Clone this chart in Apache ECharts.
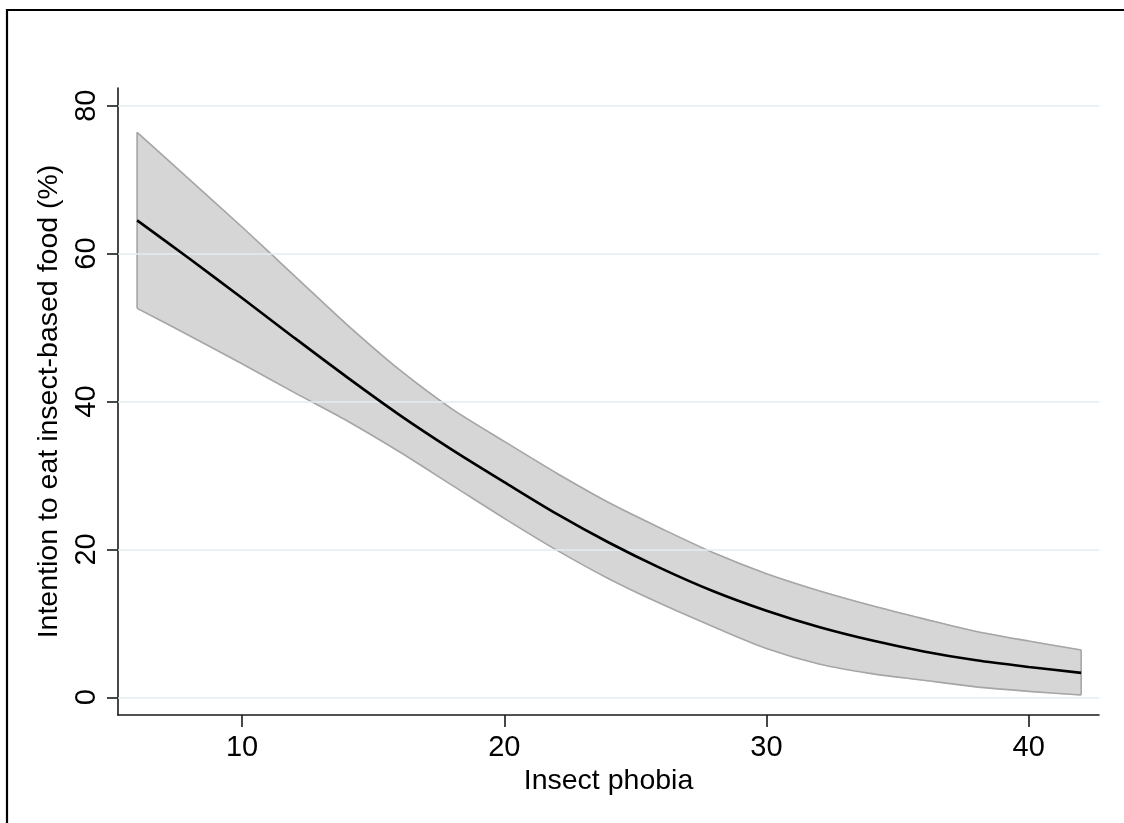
<!DOCTYPE html>
<html>
<head>
<meta charset="utf-8">
<script src="https://cdn.jsdelivr.net/npm/echarts@6/dist/echarts.min.js"></script>
<style>
  html, body { margin: 0; padding: 0; background: #ffffff; }
  #chart { width: 1124px; height: 823px; }
</style>
</head>
<body>
<div id="chart"></div>
<script>
// Insect phobia score (x) and predicted intention (%) with 95% CI
const xVals     = [6,    8,    10,   12,   14,   16,   18,   20,   22,   24,   26,   28,   30,   32,   34,   36,   38,   40,   42];
const fitVals   = [64.5, 59.3, 54.0, 48.6, 43.3, 38.2, 33.5, 29.1, 24.8, 20.9, 17.4, 14.3, 11.7, 9.5,  7.7,  6.2,  5.0,  4.1,  3.3];
const upperVals = [76.4, 70.0, 63.6, 57.0, 50.4, 44.3, 39.0, 34.6, 30.3, 26.3, 22.8, 19.5, 16.7, 14.4, 12.4, 10.6, 8.9,  7.6,  6.4];
const lowerVals = [52.6, 48.9, 45.1, 41.2, 37.4, 33.2, 28.7, 24.2, 19.9, 16.0, 12.6, 9.5,  6.6,  4.5,  3.2,  2.3,  1.4,  0.8,  0.3];

const xTicks = [10, 20, 30, 40];
const yTicks = [0, 20, 40, 60, 80];

const xTitle = 'Insect phobia';
const yTitle = 'Intention to eat insect-based food (%)';

const FONT = '"Liberation Sans", Arial, sans-serif';

const chart = echarts.init(document.getElementById('chart'), null, { renderer: 'canvas' });

const option = {
  backgroundColor: '#ffffff',
  animation: false,
  grid: { left: 118, right: 25, top: 88, bottom: 108, containLabel: false },
  xAxis: {
    type: 'value',
    min: 5.27,
    max: 42.68,
    name: xTitle,
    nameLocation: 'middle',
    nameGap: 44,
    nameTextStyle: { fontFamily: FONT, fontSize: 28.5, color: '#000' },
    axisLine: { show: true, onZero: false, lineStyle: { color: '#1a1a1a', width: 1.6 } },
    axisTick: { show: true, length: 12, customValues: xTicks, lineStyle: { color: '#1a1a1a', width: 1.6 } },
    axisLabel: { customValues: xTicks, margin: 18, fontFamily: FONT, fontSize: 29, color: '#000' },
    splitLine: { show: false }
  },
  yAxis: {
    type: 'value',
    min: -2.4,
    max: 82.4,
    name: yTitle,
    nameLocation: 'middle',
    nameRotate: 90,
    nameGap: 45,
    nameTextStyle: { fontFamily: FONT, fontSize: 28.5, color: '#000' },
    axisLine: { show: true, onZero: false, lineStyle: { color: '#1a1a1a', width: 1.6 } },
    axisTick: { show: true, length: 11, customValues: yTicks, lineStyle: { color: '#1a1a1a', width: 1.6 } },
    axisLabel: { customValues: yTicks, rotate: 90, margin: 17, fontFamily: FONT, fontSize: 29, color: '#000' },
    splitLine: { show: false }
  },
  graphic: [{
    type: 'polyline',
    shape: { points: [[7, 823], [7, 10], [1124, 10]] },
    style: { fill: 'none', stroke: '#000', lineWidth: 2.2 },
    silent: true,
    z: 100
  }],
  series: [
    {
      type: 'custom',
      z: 2,
      silent: true,
      data: xVals.map((x, i) => [x, lowerVals[i], upperVals[i]]),
      encode: { x: 0, y: [1, 2] },
      renderItem: function (params, api) {
        if (params.dataIndex !== 0) return null;
        const up = xVals.map((x, i) => api.coord([x, upperVals[i]]));
        const lo = xVals.map((x, i) => api.coord([x, lowerVals[i]]));
        const n = xVals.length;
        const edge = { fill: 'none', stroke: '#a6a6a6', lineWidth: 1.6 };
        return {
          type: 'group',
          children: [
            { type: 'polygon', shape: { points: up.concat(lo.slice().reverse()) },
              style: { fill: '#d6d6d6', stroke: '#d6d6d6', lineWidth: 1 } },
            { type: 'polyline', shape: { points: up, smooth: 0.3 }, style: edge },
            { type: 'polyline', shape: { points: lo, smooth: 0.3 }, style: edge },
            { type: 'line', shape: { x1: up[0][0], y1: up[0][1], x2: lo[0][0], y2: lo[0][1] }, style: edge },
            { type: 'line', shape: { x1: up[n - 1][0], y1: up[n - 1][1], x2: lo[n - 1][0], y2: lo[n - 1][1] }, style: edge }
          ]
        };
      },
      markLine: {
        silent: true,
        z: 2.5,
        symbol: ['none', 'none'],
        label: { show: false },
        lineStyle: { color: '#e2ecf0', width: 1.6, type: 'solid' },
        data: yTicks.map(v => ({ yAxis: v }))
      }
    },
    {
      type: 'line',
      z: 3,
      silent: true,
      data: xVals.map((x, i) => [x, fitVals[i]]),
      smooth: 0.3,
      showSymbol: false,
      symbol: 'none',
      lineStyle: { color: '#000', width: 2.6 }
    }
  ]
};

chart.setOption(option);
</script>
</body>
</html>
